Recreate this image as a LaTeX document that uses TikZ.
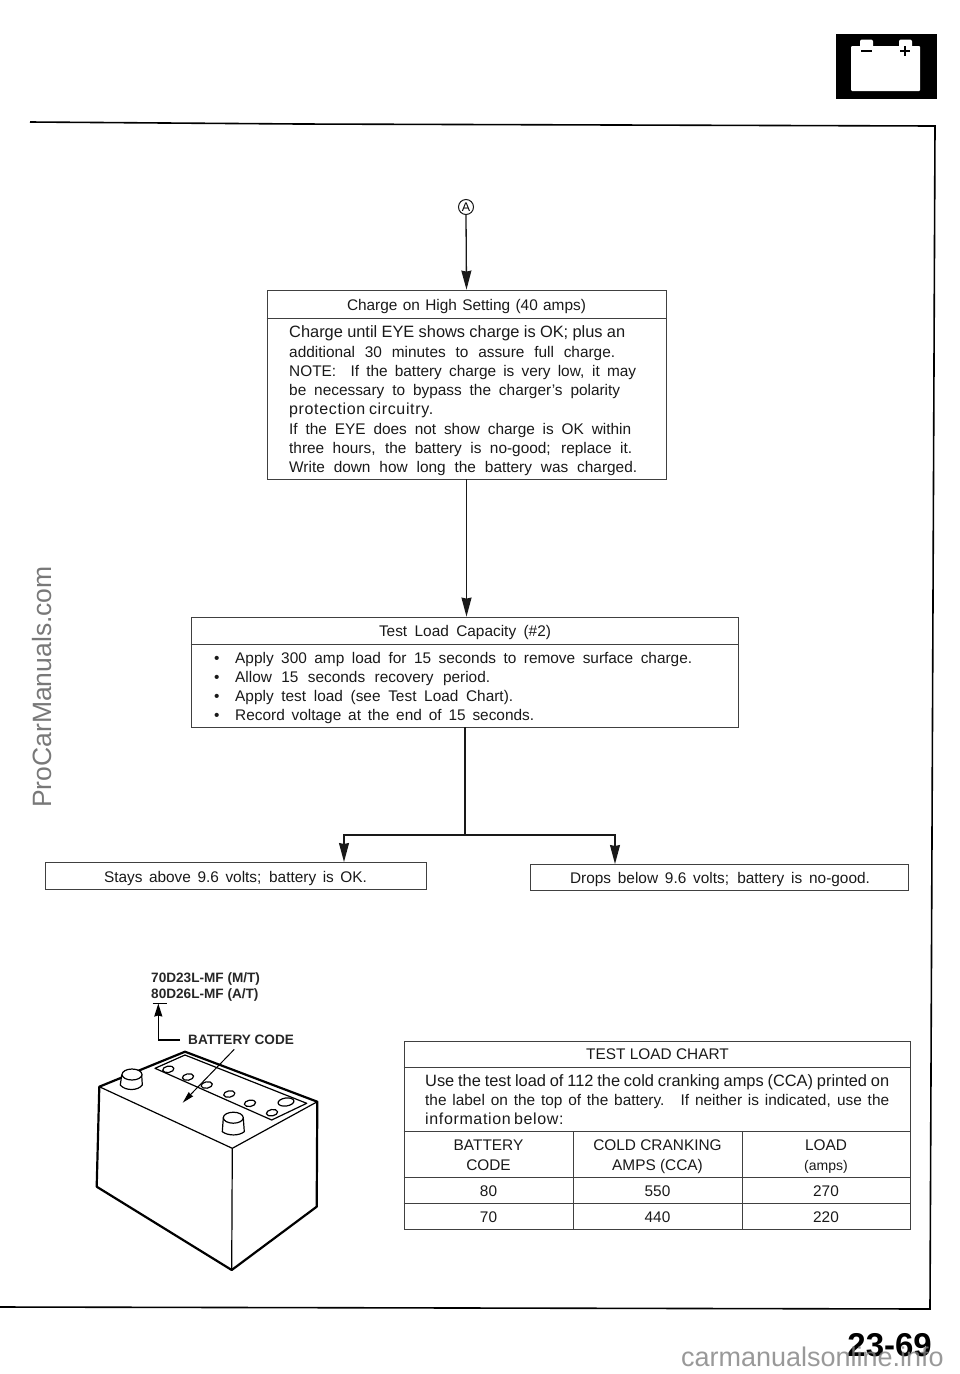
\documentclass[tikz,border=0pt]{standalone}
\usepackage{fontspec}
\setmainfont{Liberation Sans}
\usepackage{xcolor}
\usetikzlibrary{positioning,arrows.meta}

\definecolor{inkline}{gray}{.1}
\definecolor{boxline}{gray}{.25}
\definecolor{markgray}{gray}{.47}
\newcommand{\bigline}{\fontsize{16.4}{16.4}\selectfont}
\newcommand{\wideline}{\addfontfeature{LetterSpace=4}\fontsize{16}{16}\selectfont}
\tikzset{
  box/.style={draw=boxline,line width=.8pt,inner sep=0pt},
  txt/.style={anchor=base west,inner sep=0pt,text=inkline,font=\fontsize{15.4}{15.4}\selectfont},
  mid/.style={anchor=base,inner sep=0pt,text=inkline,font=\fontsize{15.4}{15.4}\selectfont},
  flow/.style={draw=inkline,line width=1.3pt,-{Stealth[length=19pt,width=10pt,inset=1pt]}},
  wire/.style={draw=inkline,line width=1.3pt},
  sep/.style={draw=boxline,line width=.8pt},
  thick line/.style={draw=black,line width=2.2pt,line join=round},
  thin line/.style={draw=black,line width=1.2pt,line join=round},
  code/.style={anchor=base west,inner sep=0pt,text=black!85,font=\fontsize{13.6}{13.6}\bfseries\selectfont}
}

\begin{document}
\begin{tikzpicture}[x=1pt,y=-1pt]
\useasboundingbox (0,0) rectangle (960,1374);
% page frame
\draw[black,line width=1.6pt] (30,122) -- (300,124) -- (935,126) -- (930,1309) -- (0,1307);
% battery icon
\fill[black] (835.5,33.5) rectangle (936.5,99);
\fill[white,rounded corners=1pt] (851,46) rectangle (920,91);
\fill[white,rounded corners=2pt] (860,39.5) rectangle (873,48);
\fill[white,rounded corners=2pt] (899,39.5) rectangle (912,48);
\fill[black] (861,49.5) rectangle (872,52);
\fill[black] (900,49.8) rectangle (910,52.2);
\fill[black] (903.8,46) rectangle (906.2,56);
% flow boxes
\node[draw=inkline,circle,line width=1pt,minimum size=15pt,inner sep=0pt,font=\fontsize{12.5}{12.5}\selectfont] (markA) at (466,207) {A};
\node[box,minimum width=399pt,minimum height=189pt] (chargeBox) at (466.5,384.5) {};
\node[box,minimum width=547pt,minimum height=110pt] (loadBox) at (464.5,672) {};
\node[box,minimum width=381pt,minimum height=27pt] (okBox) at (235.5,875.5) {};
\node[box,minimum width=378pt,minimum height=26pt] (badBox) at (719,877) {};
\draw[sep] (chargeBox.west |- 0,318) -- (chargeBox.east |- 0,318);
\draw[sep] (loadBox.west |- 0,644) -- (loadBox.east |- 0,644);
\coordinate (joint) at (465,835);
\coordinate (toOk) at (344,862);
\coordinate (toBad) at (615,864);
\draw[flow] (markA.south) -- (chargeBox.north);
\draw[flow] (chargeBox.south) -- (chargeBox.south |- loadBox.north);
\draw[wire] (loadBox.south -| joint) -- (joint);
\draw[flow] (joint) -| (toOk);
\draw[flow] (joint) -| (toBad);
% charge box text
\node[mid] (chargeTitle) at (466.5,310) {\makebox[239pt][s]{Charge on High Setting (40 amps)}};
\foreach \y/\w/\t in {
  337/336/{\bigline Charge until EYE shows charge is OK; plus an},
  357/326/{additional 30 minutes to assure full charge.},
  376/347/{NOTE: \ If the battery charge is very low, it may},
  395/331/{be necessary to bypass the charger's polarity},
  414/144/{\wideline protection circuitry.},
  434/342/{If the EYE does not show charge is OK within},
  453/343/{three hours, the battery is no-good; replace it.},
  472/348/{Write down how long the battery was charged.}}
  \node[txt,name=chargeLine\y] at (289,\y) {\makebox[\w pt][s]{\t}};
% load box text
\node[mid] (loadTitle) at (465,636) {\makebox[172pt][s]{Test Load Capacity (\#2)}};
\foreach \y/\w/\t in {
  663/457/{Apply 300 amp load for 15 seconds to remove surface charge.},
  682/255/{Allow 15 seconds recovery period.},
  701/278/{Apply test load (see Test Load Chart).},
  720/299/{Record voltage at the end of 15 seconds.}}{
  \node[txt,name=loadBullet\y] at (214,\y) {•};
  \node[txt,name=loadLine\y] at (235,\y) {\makebox[\w pt][s]{\t}};
}
\node[mid] (okText) at (235.5,882) {\makebox[263pt][s]{Stays above 9.6 volts; battery is OK.}};
\node[mid] (badText) at (720,883) {\makebox[300pt][s]{Drops below 9.6 volts; battery is no-good.}};
% test load chart
\node[box,minimum width=506pt,minimum height=188pt] (chart) at (657,1135) {};
\foreach \y in {1067,1131,1177,1203}
  \draw[sep] (chart.west |- 0,\y) -- (chart.east |- 0,\y);
\foreach \x in {573,742}
  \draw[sep] (\x,1131) -- (\x,1229);
\node[mid] (chartTitle) at (657.5,1059) {TEST LOAD CHART};
\foreach \y/\w/\t in {
  1086/464/{\bigline Use the test load of 112 the cold cranking amps (CCA) printed on},
  1105/464/{the label on the top of the battery. \ If neither is indicated, use the},
  1124/138/{\wideline information below:}}
  \node[txt,name=chartLine\y] at (425,\y) {\makebox[\w pt][s]{\t}};
\foreach \x/\y/\t in {
  488.5/1150/BATTERY,488.5/1170/CODE,657.5/1150/COLD CRANKING,657.5/1170/AMPS (CCA),
  826/1150/LOAD,488.5/1196/80,657.5/1196/550,826/1196/270,488.5/1222/70,657.5/1222/440,826/1222/220}
  \node[mid,name=cell\x-\y] at (\x,\y) {\t};
\node[mid,font=\fontsize{14}{14}\selectfont] (cellAmps) at (826,1170) {(amps)};
% battery
\draw[thin line] (99.3,1086.7) -- (232.3,1148.3) -- (317.3,1101.7);
\draw[thin line] (232.3,1148.3) -- (231.7,1270);
\draw[thin line] (155,1068.3) -- (185,1055) -- (306.7,1103.3) -- (271.7,1120) -- cycle;
\draw[thick line] (96.7,1186.7) -- (99.3,1086.7) -- (185,1051.7) -- (317.3,1101.7) -- (316.7,1206.7) -- (231.7,1270) -- cycle;
\foreach \x/\y in {168.3/1069.3,188/1077,206.7/1085,229.3/1094,250/1103.3,272/1112.7}
  \draw[thin line,rotate around={10:(\x,\y)}] (\x,\y) ellipse (5.7 and 3.2);
\draw[thin line,rotate around={8:(286,1102)}] (286,1102) ellipse (8 and 4);
\draw[thin line,fill=white] (121.7,1075) -- (120.3,1085) .. controls (125,1091) and (138,1091) .. (142.3,1085) -- (141.7,1075) -- cycle;
\draw[thin line,fill=white] (132,1074.5) ellipse (10 and 5.5);
\draw[thin line,fill=white] (223.3,1118) -- (222.3,1131.7) .. controls (228,1136) and (239,1136) .. (244.3,1131.7) -- (243.3,1118) -- cycle;
\draw[thin line,fill=white] (233.3,1117.7) ellipse (10 and 5.5);
\node[code] (codeOne) at (151,982) {70D23L-MF (M/T)};
\node[code] (codeTwo) at (151,998) {80D26L-MF (A/T)};
\node[code] (codeLabel) at (188,1044) {BATTERY CODE};
\coordinate (codeBar) at (158.3,1003.5);
\coordinate (codeBend) at (158.3,1040);
\coordinate (codeEnd) at (180,1040);
\coordinate (codeStart) at (234.3,1049.3);
\coordinate (codeTip) at (182.7,1102.7);
\draw[thin line] (152.7,1003.5) -- (166.7,1003.5);
\draw[line width=1.4pt,line join=miter,-{Stealth[length=13pt,width=8pt,inset=1pt]}] (codeEnd) -- (codeBend) -- (codeBar);
\draw[line width=1pt,-{Stealth[length=12pt,width=6pt,inset=1pt]}] (codeStart) -- (codeTip);
% page number and site marks
\node[anchor=base east,inner sep=0pt,font=\fontsize{33}{33}\bfseries\selectfont] (pageNo) at (932,1356) {23-69};
\node[anchor=base,inner sep=0pt,rotate=90,text=markgray,font=\fontsize{26.5}{26.5}\selectfont] (siteSide) at (51,687) {ProCarManuals.com};
\node[anchor=base east,inner sep=0pt,text=gray,opacity=.8,font=\fontsize{27}{27}\selectfont] (siteBottom) at (944,1366) {carmanualsonline.info};
\end{tikzpicture}
\end{document}
